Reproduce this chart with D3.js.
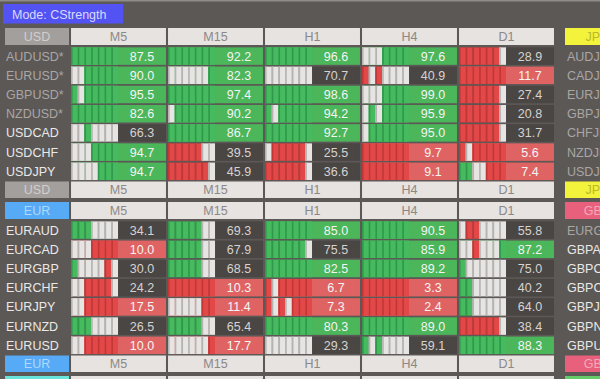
<!DOCTYPE html>
<html lang="en">
  <head>
    <meta charset="UTF-8" />
    <script src="https://d3js.org/d3.v7.min.js"></script>
    <style>
      body { margin: 0; background: #5c5856; }
      svg text { font-family: "Liberation Sans", Arial, sans-serif; }
    </style>
    <title>CStrength</title>
  </head>
  <body>
    <svg id="board" width="600" height="379"></svg>
    <script>
      // timeframes (column headers)
      const timeframes = ["M5", "M15", "H1", "H4", "D1"];

      // USD block
      const usdPairs = ["AUDUSD*", "EURUSD*", "GBPUSD*", "NZDUSD*", "USDCAD", "USDCHF", "USDJPY"];
      const usdValues = [
        [87.5, 92.2, 96.6, 97.6, 28.9],
        [90.0, 82.3, 70.7, 40.9, 11.7],
        [95.5, 97.4, 98.6, 99.0, 27.4],
        [82.6, 90.2, 94.2, 95.9, 20.8],
        [66.3, 86.7, 92.7, 95.0, 31.7],
        [94.7, 39.5, 25.5, 9.7, 5.6],
        [94.7, 45.9, 36.6, 9.1, 7.4],
      ];
      const usdBars = [
        ["GGGGGGG", "GGGGGGG", "GGGGGGG", "WWWGGGG", "RRRRRRW"],
        ["WWGGGGG", "WWWWWWG", "WWWWWWW", "RWRWWWW", "RRRRRRR"],
        ["GWGGGGG", "GGGGGGG", "GGGGGGG", "WWWGGGG", "RRRRRRW"],
        ["GGGGGGG", "WGGGGGG", "GWGGGGG", "WGWGGGG", "RRRRRRW"],
        ["WWGWWWW", "GGGGGGG", "GGGGGGG", "WGGGGGG", "RRRRRRW"],
        ["WWWGGGG", "RRRRRWW", "WRRRRRW", "RRRRRRR", "RWRRRRR"],
        ["WWWWGGG", "RRRRRRW", "RRRRRRW", "RRRRRRR", "GGWWRRR"],
      ];

      // EUR block
      const eurPairs = ["EURAUD", "EURCAD", "EURGBP", "EURCHF", "EURJPY", "EURNZD", "EURUSD"];
      const eurValues = [
        [34.1, 69.3, 85.0, 90.5, 55.8],
        [10.0, 67.9, 75.5, 85.9, 87.2],
        [30.0, 68.5, 82.5, 89.2, 75.0],
        [24.2, 10.3, 6.7, 3.3, 40.2],
        [17.5, 11.4, 7.3, 2.4, 64.0],
        [26.5, 65.4, 80.3, 89.0, 38.4],
        [10.0, 17.7, 29.3, 59.1, 88.3],
      ];
      const eurBars = [
        ["GGGWWWW", "GGGGGWW", "GGGGGGG", "GGGGGGG", "WRRWWWW"],
        ["WWWRRRR", "GGGGGWW", "GGGGGGW", "GGGGGGG", "WWRWWWG"],
        ["GWWWWRW", "GGGGGWW", "GGGGGGG", "GGGGGGG", "GWWWWWW"],
        ["WWRRRRW", "RRRRRRR", "RWRRRRR", "RRRRRRR", "GGWWWWW"],
        ["WWRRRRR", "WWWWWRR", "RWRWRRR", "RRRRRRR", "GGWWWWW"],
        ["GGGWWWW", "GGGGGWW", "GGGGGGG", "GGGGGGG", "RRRRRRW"],
        ["WWRRRRR", "WWWWWWR", "WWWWWWW", "GWGWWWW", "GGGGGGG"],
      ];

      // right-hand column (cut off by the window)
      const jpyPairs = ["AUDJPY*", "CADJPY*", "EURJPY*", "GBPJPY*", "CHFJPY*", "NZDJPY*", "USDJPY*"];
      const gbpPairs = ["EURGBP*", "GBPAUD", "GBPCAD", "GBPCHF", "GBPJPY", "GBPNZD", "GBPUSD"];

      const svg = d3.select("#board");
      const width = +svg.attr("width");

      // top border
      svg.append("rect").attr("x", 0).attr("y", 0).attr("width", width).attr("height", 1.5).attr("fill", "#8f8b89");

      // mode button
      svg.append("rect").attr("x", 3).attr("y", 4).attr("width", 120).attr("height", 19.5).attr("fill", "#5353f3");
      svg.append("text").attr("x", 12).attr("y", 18.5).attr("font-size", 12.5).attr("fill", "#d9d9ff").text("Mode: CStrength");

      // scales
      const x = d3.scaleBand().domain(timeframes).range([70, 555]).paddingInner(0.021).paddingOuter(0.0105);
      const rowY = d3.scaleBand().domain(d3.range(7)).range([0, 134.4]).paddingInner(0.09).paddingOuter(0.045);
      const segX = d3.scaleBand().domain(d3.range(7)).range([0, 47]);
      const status = d3.scaleThreshold().domain([20, 80]).range(["red", "dark", "green"]);

      const boxFill = { red: "#e06363", dark: "#4a4644", green: "#4bb65a" };
      const segFill = { G: "#46ba5f", R: "#e34848", W: "#e7e5e3" };
      const segEdge = { G: "#2f984a", R: "#c23636", W: "#b6b2b0" };

      function headerRow(g, y, h, label, fill, textFill) {
        g.append("rect").attr("x", 5).attr("y", y).attr("width", 64).attr("height", h).attr("fill", fill);
        g.append("text").attr("x", 37).attr("y", y + h / 2 + 4.5).attr("text-anchor", "middle")
          .attr("font-size", 12.5).attr("fill", textFill).text(label);
        g.selectAll(null).data(timeframes).join("rect")
          .attr("x", (d) => x(d)).attr("y", y).attr("width", x.bandwidth()).attr("height", h)
          .attr("fill", "#e6e3e1");
        g.selectAll(null).data(timeframes).join("text")
          .attr("x", (d) => x(d) + x.bandwidth() / 2).attr("y", y + h / 2 + 4.5)
          .attr("text-anchor", "middle").attr("font-size", 12.5).attr("fill", "#8c8886")
          .text((d) => d);
      }

      function sideBox(g, y, h, label, fill, textFill) {
        g.append("rect").attr("x", 565).attr("y", y).attr("width", 64).attr("height", h).attr("fill", fill);
        g.append("text").attr("x", 597).attr("y", y + h / 2 + 4.5).attr("text-anchor", "middle")
          .attr("font-size", 12.5).attr("fill", textFill).text(label);
      }

      function block(top, label, fill, textFill, pairs, values, bars, side) {
        const g = svg.append("g");
        headerRow(g, top, 17, label, fill, textFill);
        headerRow(g, top + 153.5, 16.5, label, fill, textFill);
        sideBox(g, top, 17, side.label, side.fill, side.text);
        sideBox(g, top + 153.5, 16.5, side.label, side.fill, side.text);

        const rows = g.selectAll("g.row").data(pairs).join("g").attr("class", "row")
          .attr("transform", (d, i) => `translate(0,${top + 18.5 + rowY(i)})`);
        const h = rowY.bandwidth();

        rows.append("text").attr("x", 6).attr("y", h / 2 + 4.5).attr("font-size", 12.5)
          .attr("fill", (d) => (d.endsWith("*") ? "#aaa6a4" : "#ebe9e7")).text((d) => d);

        rows.append("text").attr("x", 567).attr("y", h / 2 + 4.5).attr("font-size", 12.5)
          .attr("fill", (d, i) => (side.pairs[i].endsWith("*") ? "#aaa6a4" : "#ebe9e7"))
          .text((d, i) => side.pairs[i]);

        rows.each(function (pair, i) {
          const row = d3.select(this);
          timeframes.forEach((tf, j) => {
            const cx = x(tf);
            const v = values[i][j];
            row.append("rect").attr("x", cx).attr("y", 0).attr("width", x.bandwidth()).attr("height", h)
              .attr("fill", boxFill[status(v)]);
            const segs = bars[i][j].split("");
            row.selectAll(null).data(segs).join("rect")
              .attr("x", (s, k) => cx + segX(k)).attr("y", 0)
              .attr("width", segX.bandwidth()).attr("height", h)
              .attr("fill", (s) => segFill[s]);
            row.selectAll(null).data(segs).join("rect")
              .attr("x", (s, k) => cx + segX(k)).attr("y", 0)
              .attr("width", 1.6).attr("height", h)
              .attr("fill", (s) => segEdge[s]);
            row.append("text").attr("x", cx + 47 + (x.bandwidth() - 47) / 2).attr("y", h / 2 + 4.5)
              .attr("text-anchor", "middle").attr("font-size", 12.5)
              .attr("fill", status(v) === "dark" ? "#d6d2d0" : "#f4f4f4")
              .text(v.toFixed(1));
          });
        });
      }

      block(28, "USD", "#a39f9d", "#d2cecc", usdPairs, usdValues, usdBars,
        { label: "JPY", fill: "#f3f33b", text: "#b9b92a", pairs: jpyPairs });
      block(202, "EUR", "#56aaf6", "#b0d8fb", eurPairs, eurValues, eurBars,
        { label: "GBP", fill: "#e8607b", text: "#f3a9b8", pairs: gbpPairs });

      // start of the next block, cut off at the bottom edge
      svg.append("rect").attr("x", 5).attr("y", 376).attr("width", 64).attr("height", 10).attr("fill", "#68e4da");
      svg.selectAll(null).data(timeframes).join("rect")
        .attr("x", (d) => x(d)).attr("y", 376).attr("width", x.bandwidth()).attr("height", 10)
        .attr("fill", "#e6e3e1");
      svg.append("rect").attr("x", 565).attr("y", 376).attr("width", 64).attr("height", 10).attr("fill", "#63cb67");
    </script>
  </body>
</html>
